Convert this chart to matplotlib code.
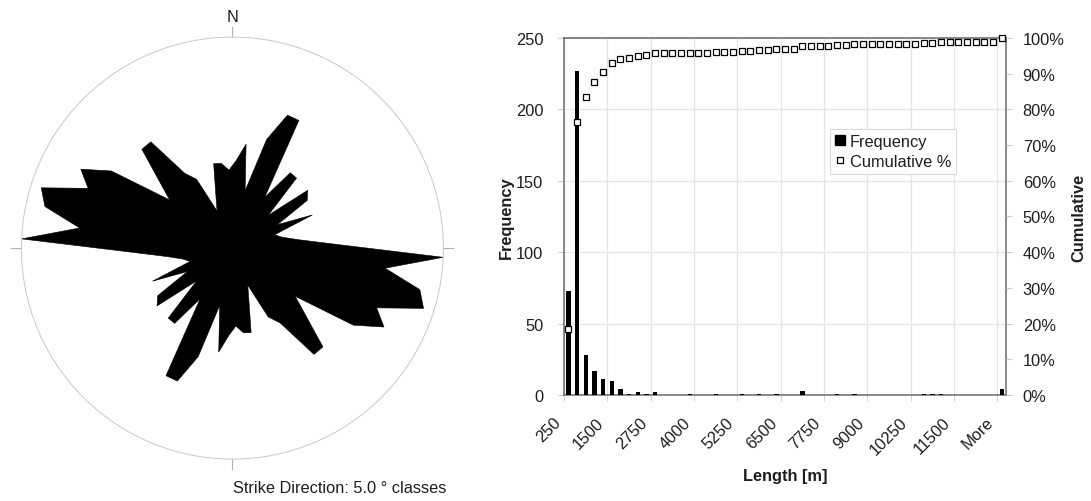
import numpy as np
import matplotlib
matplotlib.use("Agg")
import matplotlib.pyplot as plt
import matplotlib.ticker as mticker
import matplotlib.transforms as mtransforms
from matplotlib.lines import Line2D

plt.rcParams['font.family'] = ['Liberation Sans', 'DejaVu Sans']

# rose diagram: 5 deg strike classes (centres 2.5 .. 177.5), length as % of the largest class
class_centres = np.arange(2.5, 180, 5.0)
class_rel = [41.6, 49.7, 27.8, 54, 68.2, 68.2, 28.5, 45, 45, 23, 45, 42, 24, 41, 21, 24, 31, 47,
             100, 73, 91, 95, 74, 81, 68, 37.5, 47, 63.5, 63.5, 42, 36.8, 19, 26, 41, 40.5, 37]

# histogram of lengths: bins of 250 m plus "More"
bin_labels = [str(250 * k) for k in range(1, 51)] + ['More']
freq = [73, 227, 28, 17, 11, 10, 4, 1, 2, 1,
        2, 0, 0, 0, 1, 0, 0, 1, 0, 0,
        1, 0, 1, 0, 1, 0, 0, 3, 0, 0,
        0, 1, 0, 1, 0, 0, 0, 0, 0, 0,
        0, 1, 1, 1, 0, 0, 0, 0, 0, 0,
        4]

FS = 11.8
TXT = '#1e1e1e'

fig = plt.figure(figsize=(10.91, 5.02), dpi=100)

#%% rose
axr = fig.add_axes([0.01962, 0.0835, 0.3868, 0.8406], projection='polar')
axr.set_theta_zero_location('N')
axr.set_theta_direction(-1)
theta = np.deg2rad(np.concatenate([class_centres, class_centres + 180]))
r = np.concatenate([class_rel, class_rel])
axr.fill(theta, r, color='black', lw=0.4)
axr.set_ylim(0, 100)
axr.set_xticks([])
axr.set_yticks([])
axr.grid(False)
axr.spines['polar'].set_color('#c8c8c8')
axr.spines['polar'].set_linewidth(0.7)
for a in [0, 90, 180, 270]:
    axr.plot([np.deg2rad(a)] * 2, [100, 104.7], color='#b0b0b0', lw=0.8, clip_on=False)
axr.text(0, 110, 'N', ha='center', va='center', fontsize=FS, color=TXT)
fig.text(233 / 1091, 1 - 489 / 502, 'Strike Direction: 5.0 \u00b0 classes',
         ha='left', va='center', fontsize=FS, color=TXT)

#%% histogram
ax = fig.add_axes([0.517, 0.2112, 0.4051, 0.7111])
x = np.arange(len(freq))
ax.bar(x, freq, width=0.5, color='black', zorder=3)
ax.set_xlim(-0.5, len(freq) - 0.5)
ax.set_ylim(0, 250)
ax.set_yticks(np.arange(0, 251, 50))
ax.set_xticks(x[::5])
ax.set_xticklabels(bin_labels[::5], rotation=45, ha='right')
ax.set_xticks(np.arange(-0.5, len(freq) - 1, 5), minor=True)
ax.grid(True, which='minor', axis='x', color='#e4e4e4', lw=0.9)
ax.grid(True, which='major', axis='y', color='#e4e4e4', lw=0.9)
ax.set_axisbelow(True)
ax.tick_params(axis='x', which='major', length=0, pad=14, labelsize=FS, labelcolor=TXT)
ax.tick_params(axis='x', which='minor', length=4, color='#c8c8c8')
ax.tick_params(axis='y', length=4, color='#c8c8c8', pad=11, labelsize=FS, labelcolor=TXT)
off = mtransforms.ScaledTranslation(-5 / 100, 0, fig.dpi_scale_trans)
for lab in ax.get_xticklabels():
    lab.set_transform(lab.get_transform() + off)
for s in ax.spines.values():
    s.set_color('#6a6a6a')
    s.set_linewidth(1.1)

ax.set_xlabel('Length [m]', fontsize=FS, weight='bold', va='center', color=TXT)
ax.xaxis.set_label_coords(0.5, -0.226)
ax.set_ylabel('Frequency', fontsize=FS, weight='bold', va='center', color=TXT)
ax.yaxis.set_label_coords(-0.131, 0.5)

ax2 = ax.twinx()
cum = np.cumsum(freq) / np.sum(freq) * 100
ax2.plot(x, cum, 's', ms=5, mfc='white', mec='black', mew=0.9, clip_on=False, zorder=3)
ax2.set_ylim(0, 100)
ax2.set_yticks(np.arange(0, 101, 10))
ax2.yaxis.set_major_formatter(mticker.PercentFormatter(decimals=0))
ax2.tick_params(axis='y', length=4, color='#c8c8c8', pad=8, labelsize=FS, labelcolor=TXT)
for s in ax2.spines.values():
    s.set_visible(False)
ax2.set_ylabel('Cumulative', fontsize=FS, weight='bold', va='center', rotation=90, color=TXT)
ax2.yaxis.set_label_coords(1.164, 0.5)

handles = [Line2D([], [], marker='s', ls='', ms=7.2, mfc='black', mec='black'),
           Line2D([], [], marker='s', ls='', ms=4.5, mfc='white', mec='black', mew=0.9)]
leg = ax2.legend(handles, ['Frequency', 'Cumulative %'], loc='upper left',
                 bbox_to_anchor=(0.6018, 0.745), borderaxespad=0, fontsize=FS,
                 fancybox=False, edgecolor='#dadada', handlelength=0.6,
                 handletextpad=0.3, borderpad=0.3, labelspacing=0.3, framealpha=1)
leg.get_frame().set_linewidth(0.8)
for t in leg.get_texts():
    t.set_color(TXT)

fig.savefig('out.png', dpi=100)
